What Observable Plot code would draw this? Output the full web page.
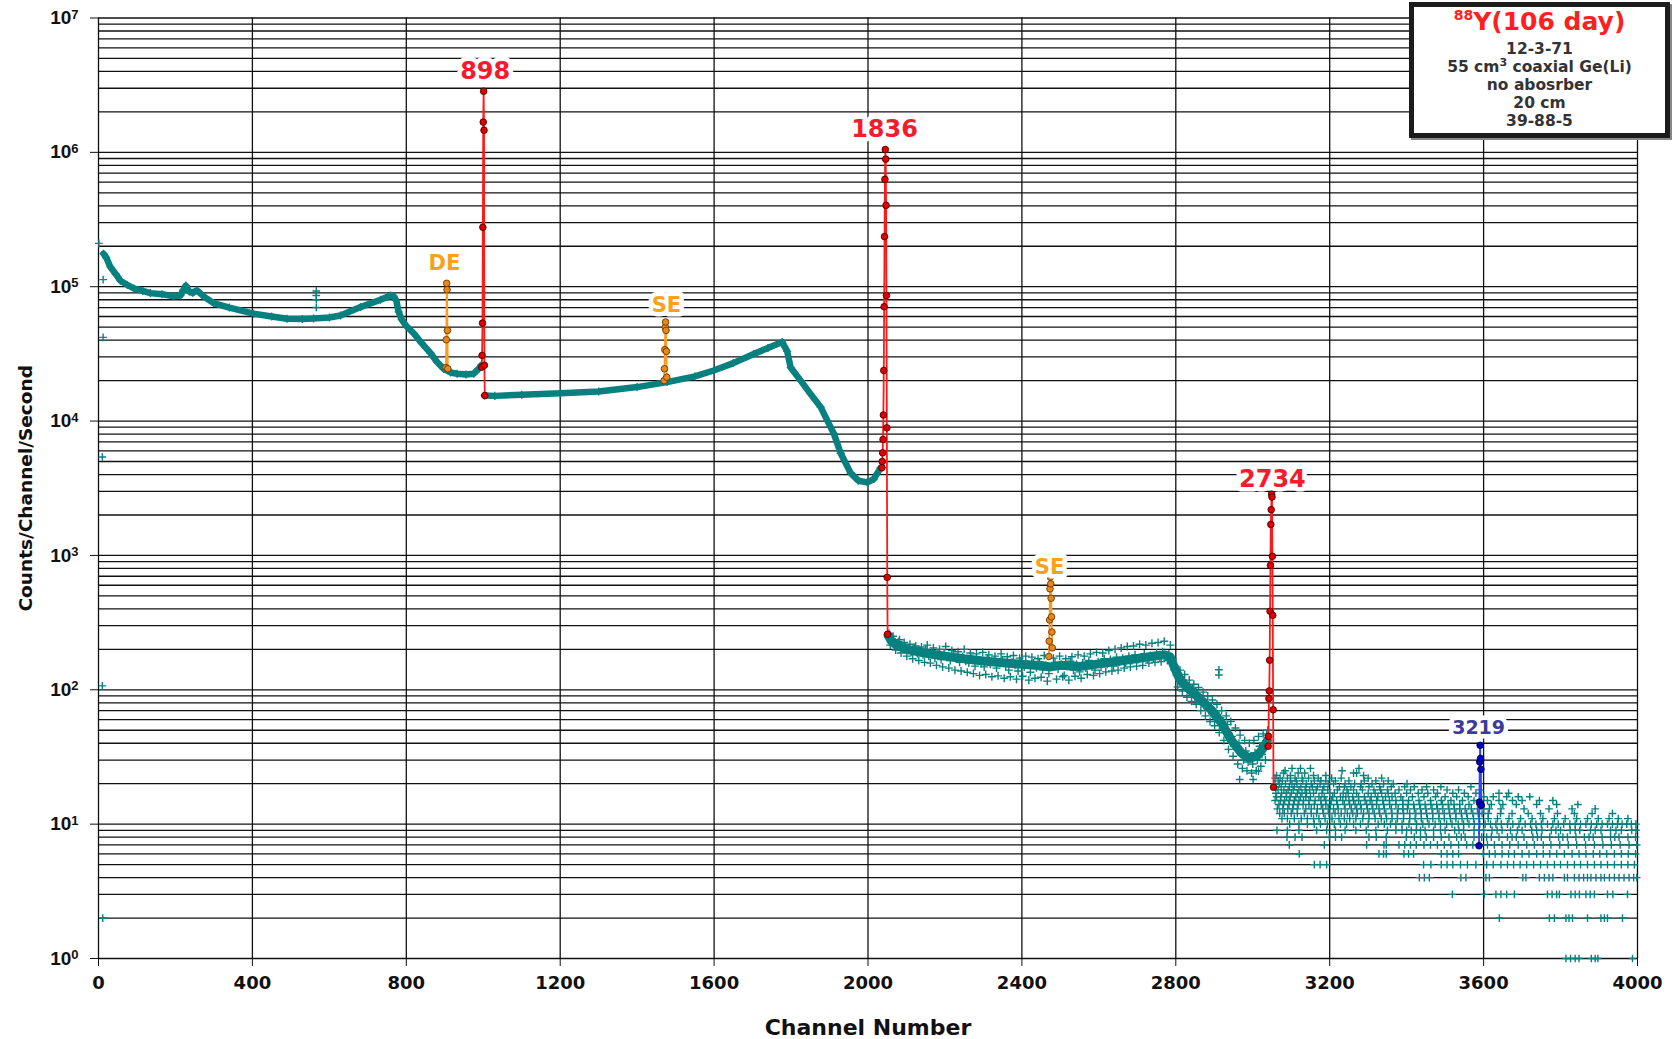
<!DOCTYPE html>
<html><head><meta charset="utf-8">
<script src="https://cdn.jsdelivr.net/npm/d3@7"></script>
<script src="https://cdn.jsdelivr.net/npm/@observablehq/plot@0.6"></script>
<style>
body{margin:0;background:#fff;}
#wrap{position:relative;width:1674px;height:1039px;overflow:hidden;}
#legend{position:absolute;left:1409px;top:2px;width:251px;height:126px;border:5px solid #1c1c1c;box-shadow:2px 2px 0 #888;background:#fff;font-family:"DejaVu Sans",sans-serif;font-weight:bold;text-align:center;color:#333;z-index:2;}
#legend .t{color:#ff1f1f;font-size:25px;line-height:30px;margin-bottom:3px;}
#legend .t sup{font-size:14px;vertical-align:10px;line-height:0;}
#legend .l{font-size:15.5px;line-height:18px;}
#legend .l sup{font-size:11px;vertical-align:6px;line-height:0;}
g[aria-label="x-axis tick label"]{font-family:"DejaVu Sans",sans-serif;font-size:18px;font-weight:bold;}
g[aria-label="y-axis tick label"]{font-family:"Liberation Sans",Arial,sans-serif;font-size:19px;font-weight:bold;}
g[aria-label="x-axis label"]{font-family:"DejaVu Sans",sans-serif;font-size:22px;font-weight:bold;}
g[aria-label="y-axis label"]{font-family:"DejaVu Sans",sans-serif;font-size:18.5px;font-weight:bold;}
</style></head>
<body><div id="wrap"><div id="legend">
<div class="t"><sup>88</sup>Y(106 day)</div>
<div class="l">12-3-71</div>
<div class="l">55 cm<sup>3</sup> coaxial Ge(Li)</div>
<div class="l">no abosrber</div>
<div class="l">20 cm</div>
<div class="l">39-88-5</div>
</div></div>
<script>
// ---- axis ticks ----
const xTicks = [0,400,800,1200,1600,2000,2400,2800,3200,3600,4000];
const yTicks = [1,10,100,1e3,1e4,1e5,1e6,1e7];
const yMinor = [1,2,3,4,5,6,7,8,9];

// ---- smooth continuum, segment before the 898 peak ----
const seg1Ch  = [13,20,31,45,57,75,92,115,135,165,195,213,220,227,236,245,256,275,299,340,403,450,490,530,559,600,629,681,733,759,767,774,780,788,800,819,840,863,880,897,915,932,955,975,988,995];
const seg1Val = [176000,165000,140000,124000,111000,103000,97000,93000,89600,88000,85000,86000,94000,102000,92000,90000,94000,84000,75500,70000,63000,60000,57800,57500,58000,59000,61000,70500,80000,86000,85000,79000,65000,57000,51000,45000,38000,32000,27500,24500,23000,22500,22200,22500,24500,26000];
// ---- smooth continuum between 898 and 1836 peaks ----
const seg2Ch  = [1004,1030,1100,1201,1300,1400,1478,1550,1599,1650,1703,1740,1777,1790,1799,1825,1850,1877,1895,1911,1929,1955,1975,1998,2015,2033,2036];
const seg2Val = [15500,15400,15700,16100,16600,17900,19500,21500,23800,27000,31600,35000,38700,33000,25000,20000,16000,12700,10000,8100,5760,4100,3600,3500,3700,4500,4500];
// ---- noisy continuum trend after 1836 peak ----
const trendCh  = [2052,2060,2075,2100,2150,2200,2250,2300,2350,2400,2450,2475,2500,2550,2600,2650,2700,2750,2770,2785,2795,2810,2830,2860,2890,2920,2945,2970,2990,3010,3025,3038];
const trendVal = [255,232,214,200,187,178,170,164,159,155,151,148,152,149,156,163,171,179,182,176,150,120,104,87,72,56,42,34,31,32,36,42];
// ---- noisy continuum scatter (two interleaved readings) ----
const noiseCh  = [2055,2062,2068,2075,2082,2090,2097,2105,2112,2120,2128,2135,2143,2150,2158,2166,2174,2182,2190,2198,2206,2214,2222,2230,2238,2246,2254,2262,2270,2278,2286,2294,2302,2310,2318,2326,2334,2342,2350,2358,2366,2374,2382,2390,2398,2406,2414,2422,2430,2438,2446,2454,2462,2470,2478,2486,2494,2502,2510,2518,2526,2534,2542,2550,2558,2566,2574,2582,2590,2598,2606,2614,2622,2630,2638,2646,2654,2662,2670,2678,2686,2694,2702,2710,2718,2726,2734,2742,2750,2758,2766,2774,2782,2790,2796,2802,2808,2814,2820,2826,2832,2838,2844,2850,2856,2862,2868,2874,2880,2886,2892,2898,2904,2910,2916,2922,2928,2934,2940,2946,2952,2958,2964,2970,2976,2982,2988,2994,3000,3006,3012,3018,3024,3030,3036];
const noiseVal = [262,240,228,218,236,205,212,198,190,207,186,194,182,200,178,190,172,185,168,188,175,165,182,170,160,176,163,158,172,150,166,157,148,170,155,162,145,158,167,150,140,160,152,138,163,148,155,135,158,146,162,141,152,132,148,160,142,155,128,150,163,140,155,136,158,145,165,150,140,162,148,170,155,168,150,175,160,172,158,178,165,182,168,175,185,170,180,172,188,176,192,178,185,160,140,128,118,125,108,112,100,96,102,88,92,82,86,76,80,70,74,64,68,58,62,52,48,55,42,45,38,36,40,33,30,35,29,32,28,34,30,38,33,40,46];
const noise2Ch  = [2058,2065,2072,2079,2086,2094,2101,2109,2116,2124,2132,2139,2147,2154,2162,2170,2178,2186,2194,2202,2210,2218,2226,2234,2242,2250,2258,2266,2274,2282,2290,2298,2306,2314,2322,2330,2338,2346,2354,2362,2370,2378,2386,2394,2402,2410,2418,2426,2434,2442,2450,2458,2466,2482,2490,2498,2506,2514,2522,2530,2538,2546,2554,2562,2570,2578,2586,2594,2602,2610,2618,2626,2634,2642,2650,2658,2666,2674,2682,2690,2698,2706,2714,2722,2730,2738,2746,2754,2762,2770,2778,2786,2792,2799,2805,2811,2817,2823,2829,2835,2841,2847,2853,2859,2865,2871,2877,2883,2889,2895,2901,2907,2913,2919,2925,2931,2937,2943,2949,2955,2961,2967,2973,2979,2985,2991,2997,3003,3009,3015,3021,3027,3033,3039];
const noise2Val = [215,250,198,228,188,225,178,218,170,212,165,208,160,215,158,205,152,200,148,210,145,196,140,192,138,200,135,188,132,185,128,190,130,182,125,178,127,185,122,176,125,180,120,172,126,178,118,175,122,170,124,180,116,172,120,178,125,170,118,176,126,182,122,178,130,185,128,190,132,188,136,196,138,200,140,205,145,210,148,212,150,218,152,215,158,222,160,225,162,230,165,215,170,150,105,140,98,130,88,118,82,110,78,104,70,96,64,90,58,84,54,78,48,70,42,64,36,58,32,52,28,46,26,42,25,40,24,42,25,45,27,47,30,50];
// ---- tail: quantised count levels and the channels where points appear ----
const tailLevels = [26,25,24,23,22,21,20,19,18,17,16,15,14,13,12,11,10,9,8,7,6,5,4,3,2,1];
const tailChannels = [
 [3102,3124,3150,3276],
 [3084,3232],
 [3080,3118,3135,3262,3270],
 [3062,3098,3158,3190,3288],
 [3058,3071,3090,3110,3128,3145,3170,3205,3230,3300,3335],
 [3066,3077,3098,3113,3130,3160,3177,3190,3215,3250,3290,3320,3352],
 [3058,3069,3085,3102,3115,3140,3152,3175,3196,3210,3240,3265,3282,3310,3340,3365,3401],
 [3060,3074,3095,3108,3125,3138,3155,3168,3185,3225,3238,3255,3280,3302,3330,3360,3395,3420,3452,3489,3567],
 [3066,3081,3092,3105,3120,3136,3148,3165,3182,3195,3220,3245,3262,3285,3315,3332,3350,3380,3410,3440,3470,3505,3535,3590],
 [3060,3075,3087,3100,3116,3128,3140,3158,3180,3200,3212,3235,3248,3270,3300,3318,3335,3352,3370,3400,3430,3455,3480,3520,3550,3580,3640,3665],
 [3062,3073,3088,3097,3112,3124,3138,3150,3172,3186,3208,3228,3242,3260,3275,3290,3308,3325,3345,3362,3385,3415,3445,3475,3500,3530,3560,3600,3625,3660,3690,3720],
 [3058,3072,3083,3095,3108,3120,3132,3146,3162,3177,3190,3204,3218,3234,3250,3262,3275,3292,3305,3322,3338,3355,3372,3390,3405,3432,3462,3490,3515,3545,3575,3610,3640,3675,3700,3745,3780],
 [3068,3080,3094,3106,3118,3131,3146,3160,3178,3190,3202,3220,3238,3252,3266,3280,3296,3310,3322,3340,3356,3372,3390,3404,3418,3434,3448,3463,3478,3493,3508,3523,3538,3562,3590,3620,3650,3685,3738,3790,3845],
 [3064,3078,3091,3104,3116,3138,3152,3168,3182,3196,3210,3222,3240,3256,3270,3282,3298,3312,3328,3342,3360,3378,3390,3402,3420,3436,3450,3466,3480,3494,3510,3524,3538,3552,3568,3584,3600,3615,3645,3705,3770,3830,3890],
 [3070,3082,3100,3116,3134,3152,3166,3184,3198,3214,3230,3246,3260,3272,3288,3302,3316,3330,3346,3362,3376,3392,3408,3424,3438,3452,3468,3484,3498,3512,3528,3542,3556,3572,3586,3596,3612,3644,3674,3716,3748,3792,3836,3882,3935],
 [3076,3090,3108,3126,3142,3158,3172,3188,3206,3224,3238,3252,3268,3286,3302,3318,3334,3348,3362,3376,3392,3408,3422,3438,3454,3468,3484,3498,3514,3528,3544,3558,3574,3588,3612,3636,3666,3696,3726,3754,3784,3812,3842,3870,3898,3926,3950,3975],
 [3096,3120,3142,3160,3176,3194,3212,3228,3244,3262,3280,3300,3326,3342,3358,3372,3388,3406,3426,3442,3458,3474,3488,3504,3518,3534,3548,3562,3576,3590,3604,3618,3632,3646,3662,3676,3692,3708,3722,3736,3750,3766,3780,3794,3808,3824,3838,3852,3866,3880,3894,3908,3922,3935,3948,3960,3972,3984,3996],
 [3063,3090,3120,3166,3192,3215,3240,3268,3295,3320,3350,3372,3388,3400,3412,3425,3436,3448,3470,3488,3500,3525,3536,3548,3575,3588,3600,3622,3635,3648,3670,3688,3700,3725,3738,3752,3776,3788,3800,3825,3838,3850,3878,3890,3905,3930,3944,3958,3985,3996],
 [3089,3110,3128,3199,3215,3231,3302,3321,3347,3399,3420,3436,3451,3470,3490,3510,3530,3542,3552,3575,3595,3608,3620,3640,3662,3674,3685,3705,3728,3740,3750,3772,3795,3806,3818,3840,3862,3874,3885,3908,3930,3941,3952,3975,3995],
 [3095,3186,3296,3341,3347,3380,3395,3410,3425,3445,3462,3480,3498,3515,3535,3556,3572,3590,3610,3628,3648,3668,3690,3712,3732,3755,3775,3798,3820,3842,3865,3888,3910,3932,3955,3978,3998],
 [3121,3328,3340,3347,3393,3405,3418,3490,3505,3520,3535,3599,3615,3630,3648,3665,3680,3700,3718,3738,3755,3772,3790,3810,3830,3848,3866,3885,3902,3920,3940,3958,3976,3995],
 [3160,3175,3192,3444,3463,3490,3505,3520,3540,3558,3580,3608,3625,3645,3662,3678,3695,3712,3730,3748,3766,3784,3800,3818,3836,3852,3870,3888,3905,3922,3940,3958,3975,3992],
 [3433,3446,3459,3541,3554,3606,3615,3702,3710,3745,3758,3770,3780,3810,3818,3836,3848,3860,3870,3879,3892,3905,3914,3927,3940,3952,3965,3978,3990,3998],
 [3519,3602,3632,3645,3660,3680,3766,3778,3790,3797,3827,3838,3849,3866,3877,3888,3922,3936,3974],
 [3641,3771,3784,3814,3822,3831,3870,3905,3914,3922,3961],
 [3814,3826,3838,3848,3880,3890,3897,3987]
];
// ---- isolated points ----
const outCh  = [1,12,12,10,10,11,566,566,566,566,2912,2912,2966,3001,3015];
const outVal = [210000,113000,42000,5400,107,2,93000,86000,80000,70000,141,129,21.5,21.5,24.8];
// ---- full-energy peaks (red) ----
const p898Ch   = [996,997,998,999,1000,1001,1002,1003,1004];
const p898Val  = [25200,30800,53600,277000,1680000,2850000,1460000,26000,15500];
const p1836Ch  = [2036,2037,2038,2039,2040,2041,2042,2043,2044,2045,2046,2047,2048,2049,2050,2051];
const p1836Val = [4500,5000,5800,7300,11100,23800,71000,236000,630000,1050000,890000,403000,86000,8900,687,259];
const p2734Ch  = [3040,3041,3042,3043,3044,3045,3046,3047,3048,3049,3050,3051,3052,3053,3054];
const p2734Val = [38,45,86,98,166,384,843,1700,2190,2850,2720,985,358,71,18.8];
// ---- escape peaks (orange) ----
const pDECh   = [903,904,905,906,907,908];
const pDEVal  = [25000,40300,106000,95000,47300,24500];
const pSE1Ch  = [1470,1471,1472,1473,1474,1475,1476,1477];
const pSE1Val = [20000,24500,34000,50000,54600,47300,33000,21200];
const pSE2Ch  = [2470,2471,2472,2473,2474,2475,2476,2477,2478,2479];
const pSE2Val = [177,230,331,564,690,615,480,349,269,205];
// ---- 3219 peak (blue) ----
const p3219Ch  = [3588,3589,3590,3591,3592,3593,3594];
const p3219Val = [6.9,14.6,29,38.6,30.8,25.6,13.8];
// ---- peak labels ----
const redLabels = ["898","1836","2734"], redLabelCh = [1005,2043,3051], redLabelVal = [4.04e6,1.48e6,3660];
const orangeLabels = ["DE","SE","SE"], orangeLabelCh = [899,1476,2472], orangeLabelVal = [1.5e5,7.26e4,817];
const blueLabels = ["3219"], blueLabelCh = [3587], blueLabelVal = [51.6];

// ---- build tables ----
const pts = (ch, val) => ch.map((c, i) => ({c, v: val[i]}));
const yGrid = yTicks.slice(0, -1).flatMap(d => yMinor.map(m => m * d)).concat([1e7]);
const tail = tailLevels.flatMap((v, i) => tailChannels[i].map(c => ({c, v})));
const lab = (t, ch, val) => t.map((s, i) => ({s, c: ch[i], v: val[i]}));

const teal = "#088080";
const plus = (data, r) => Plot.dot(data, {x: "c", y: "v", symbol: "plus", r, stroke: teal, strokeWidth: 1.4});
const peak = (ch, val, line, fill, stroke) => [
  Plot.line(pts(ch, val), {x: "c", y: "v", stroke: line, strokeWidth: 1.8}),
  Plot.dot(pts(ch, val), {x: "c", y: "v", r: 3.3, fill, stroke, strokeWidth: 0.9})
];
const label = (data, color, size) => Plot.text(data, {x: "c", y: "v", text: "s", fill: color, fontSize: size, fontWeight: "bold", fontFamily: "DejaVu Sans", stroke: "white", strokeWidth: 9});

const chart = Plot.plot({
  width: 1674, height: 1039,
  marginLeft: 98, marginRight: 37, marginTop: 17.5, marginBottom: 81,
  style: {fontFamily: "DejaVu Sans, sans-serif", fontWeight: "bold", color: "#111"},
  x: {domain: [0, 4000]},
  y: {type: "log", domain: [1, 1e7]},
  marks: [
    Plot.ruleY(yGrid, {stroke: "#111", strokeWidth: 1.3}),
    Plot.ruleX(xTicks, {stroke: "#111", strokeWidth: 1.3}),
    Plot.line(pts(seg1Ch, seg1Val), {x: "c", y: "v", stroke: teal, strokeWidth: 6.5}),
    Plot.line(pts(seg2Ch, seg2Val), {x: "c", y: "v", stroke: teal, strokeWidth: 6.5}),
    plus(pts(seg1Ch, seg1Val), 2.7),
    plus(pts(seg2Ch, seg2Val), 2.7),
    Plot.line(pts(trendCh, trendVal), {x: "c", y: "v", stroke: teal, strokeWidth: 9}),
    plus(pts(noiseCh, noiseVal), 2.7),
    plus(pts(noise2Ch, noise2Val), 2.7),
    plus(tail, 2.6),
    plus(pts(outCh, outVal), 2.6),
    ...peak(pDECh, pDEVal, "#ff9a1f", "#e8871a", "#6a3a00"),
    ...peak(pSE1Ch, pSE1Val, "#ff9a1f", "#e8871a", "#6a3a00"),
    ...peak(pSE2Ch, pSE2Val, "#ff9a1f", "#e8871a", "#6a3a00"),
    ...peak(p898Ch, p898Val, "#ff1a1a", "#e00000", "#500000"),
    ...peak(p1836Ch, p1836Val, "#ff1a1a", "#e00000", "#500000"),
    ...peak(p2734Ch, p2734Val, "#ff1a1a", "#e00000", "#500000"),
    ...peak(p3219Ch, p3219Val, "#3344ff", "#0000cc", "#000050"),
    label(lab(redLabels, redLabelCh, redLabelVal), "#f21c2c", 24),
    label(lab(orangeLabels, orangeLabelCh, orangeLabelVal), "#f9a11b", 21),
    label(lab(blueLabels, blueLabelCh, blueLabelVal), "#3b3b99", 19),
    Plot.axisX({ticks: xTicks, tickSize: 8, tickPadding: 10, tickFormat: d => String(d), label: "Channel Number", labelAnchor: "center", labelArrow: "none", labelOffset: 76, stroke: "#111"}),
    Plot.axisY({ticks: yTicks, tickSize: 8, tickPadding: 12, tickFormat: d => "10^" + Math.round(Math.log10(d)), label: "Counts/Channel/Second", labelAnchor: "center", labelArrow: "none", labelOffset: 80, stroke: "#111"})
  ]
});
document.getElementById("wrap").appendChild(chart);
// superscript exponents on y tick labels
chart.querySelectorAll('g[aria-label="y-axis tick label"] text').forEach(t => {
  const [base, exp] = t.textContent.split("^");
  t.textContent = base;
  const ts = document.createElementNS("http://www.w3.org/2000/svg", "tspan");
  ts.setAttribute("dy", "-0.42em");
  ts.setAttribute("font-size", "13px");
  ts.textContent = exp;
  t.appendChild(ts);
});
</script></body></html>
